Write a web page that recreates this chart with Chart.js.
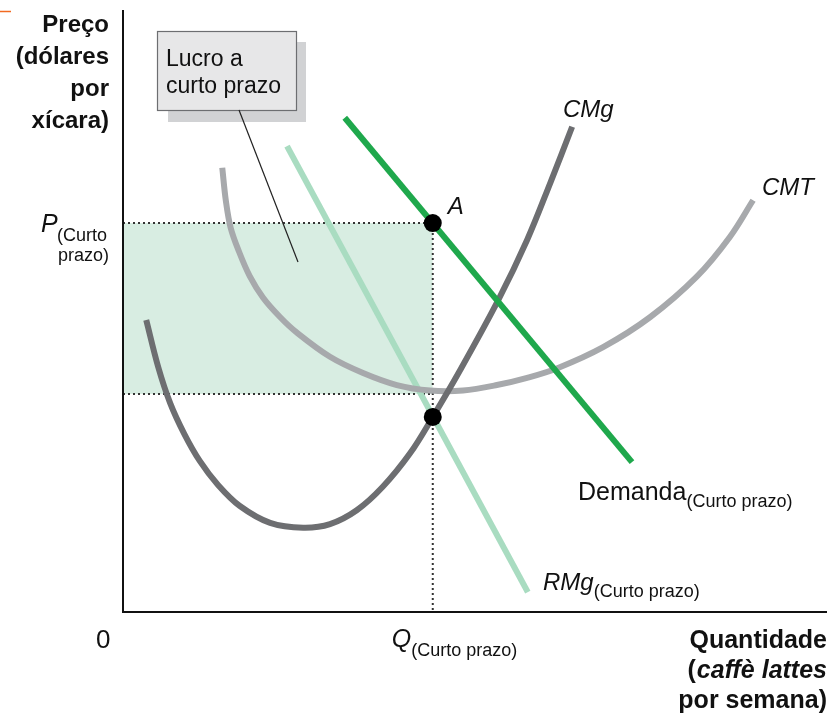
<!DOCTYPE html>
<html>
<head>
<meta charset="utf-8">
<script src="https://cdn.jsdelivr.net/npm/chart.js@4/dist/chart.umd.min.js"></script>
<style>
html,body{margin:0;padding:0;background:#fff;}
#wrap{width:827px;height:715px;position:relative;}
</style>
</head>
<body>
<div id="wrap"><canvas id="c" width="827" height="715"></canvas></div>
<script>
// ---- Data (abstract units: quantity 0..100, price 0..100) ----
const qShort = 44.0;        // Q (curto prazo)
const pShort = 64.6;        // P (curto prazo)
const atcMin = 36.2;        // minimum of CMT (bottom of profit box)
const mrAtQ = 32.4;         // RMg = CMg at Q

const demandX = [31.5, 72.3];
const demandY = [82.1, 24.9];

const mrX = [23.3, 57.5];
const mrY = [77.4, 3.3];

const mcX = [3.3, 5.0, 6.7, 8.7, 10.9, 13.5, 16.6, 20.9, 25.6, 29.4, 33.2, 36.9, 40.8, 44.0, 47.9, 53.3, 57.4, 60.7, 63.8];
const mcY = [48.5, 40.7, 34.7, 29.6, 25.1, 21.1, 17.6, 14.8, 14.0, 14.6, 16.9, 20.8, 26.4, 32.4, 40.2, 51.8, 61.8, 71.3, 80.6];

const atcX = [14.1, 14.6, 15.3, 16.5, 18.0, 19.9, 22.3, 24.7, 29.4, 34.1, 38.9, 43.6, 48.3, 53.1, 57.4, 61.7, 68.2, 74.9, 81.5, 86.2, 89.5];
const atcY = [73.8, 68.4, 63.8, 59.8, 55.8, 52.2, 49.0, 46.4, 42.4, 39.7, 37.7, 36.8, 36.8, 37.7, 38.9, 40.5, 44.0, 49.0, 55.7, 62.3, 68.4];

const curveLabels = ['CMg', 'CMT', 'Demanda', 'RMg'];
const subLabel = '(Curto prazo)';

const zip = (xs, ys) => xs.map((x, i) => ({x: x, y: ys[i]}));

const FONT = '"Liberation Sans", Arial, Helvetica, sans-serif';

function base(extra) {
  return Object.assign({
    pointRadius: 0, pointHoverRadius: 0, borderWidth: 6, fill: false,
    tension: 0, clip: false, borderCapStyle: 'butt', borderJoinStyle: 'round'
  }, extra);
}

const datasets = [
  // shaded profit rectangle
  base({data: [{x: 0, y: pShort}, {x: qShort, y: pShort}], borderWidth: 0, borderColor: 'rgba(0,0,0,0)',
        backgroundColor: '#d8ede2', fill: {value: atcMin}, order: 9}),
  // dotted guide lines
  base({data: [{x: 0, y: pShort}, {x: qShort, y: pShort}], borderWidth: 2, borderColor: '#333', borderDash: [2, 3], order: 8}),
  base({data: [{x: 0, y: atcMin}, {x: qShort, y: atcMin}], borderWidth: 2, borderColor: '#333', borderDash: [2, 3], order: 8}),
  base({data: [{x: qShort, y: pShort}, {x: qShort, y: 0}], borderWidth: 2, borderColor: '#333', borderDash: [2, 3], order: 8}),
  // axes
  base({data: [{x: 0, y: 100}, {x: 0, y: 0}, {x: 100, y: 0}], borderWidth: 2, borderColor: '#111', borderJoinStyle: 'miter', order: 7}),
  // MR (light green)
  base({data: zip(mrX, mrY), borderColor: '#a9dcc1', order: 6}),
  // ATC (light gray)
  base({data: zip(atcX, atcY), borderColor: '#a7a9ac', tension: 0.35, order: 5}),
  // MC (dark gray)
  base({data: zip(mcX, mcY), borderColor: '#6d6e71', tension: 0.35, order: 4}),
  // Demand (green)
  base({data: zip(demandX, demandY), borderColor: '#1fa84c', order: 3}),
  // points
  {data: [{x: qShort, y: pShort}, {x: qShort, y: mrAtQ}], showLine: false, pointRadius: 9, pointHoverRadius: 9,
   backgroundColor: '#000', borderColor: '#000', borderWidth: 0, clip: false, order: 0}
];

function txt(ctx, s, x, y, font, align) {
  ctx.font = font;
  ctx.textAlign = align || 'left';
  ctx.textBaseline = 'alphabetic';
  ctx.fillStyle = '#111';
  ctx.fillText(s, x, y);
}
function withSub(ctx, main, mainFont, sub, subFont, x, y, subY) {
  ctx.font = mainFont;
  const w = ctx.measureText(main).width;
  txt(ctx, main, x, y, mainFont);
  txt(ctx, sub, x + w, subY, subFont);
}

const annot = {
  id: 'annot',
  afterDraw(chart) {
    const ctx = chart.ctx;
    const xs = chart.scales.x, ys = chart.scales.y;
    ctx.save();
    // small orange mark top-left
    ctx.strokeStyle = '#f26a21'; ctx.lineWidth = 1.5;
    ctx.beginPath(); ctx.moveTo(0, 11.5); ctx.lineTo(11, 11.5); ctx.stroke();

    // y-axis title
    const bold = 'bold 24px ' + FONT;
    ['Preço', '(dólares', 'por', 'xícara)'].forEach((s, i) => txt(ctx, s, 109, 32 + i * 32, bold, 'right'));

    // P label
    const py = ys.getPixelForValue(pShort);
    txt(ctx, 'P', 41, py + 9, 'italic 25px ' + FONT);
    txt(ctx, '(Curto', 57, py + 18, '18px ' + FONT);
    txt(ctx, 'prazo)', 109, py + 38, '18px ' + FONT, 'right');

    // profit box with shadow
    ctx.fillStyle = '#d1d2d4';
    ctx.fillRect(168, 42, 138, 80);
    ctx.fillStyle = '#e7e7e8';
    ctx.fillRect(157, 31, 139, 79);
    ctx.strokeStyle = '#6d6e71'; ctx.lineWidth = 1.2;
    ctx.strokeRect(157.5, 31.5, 139, 79);
    txt(ctx, 'Lucro a', 166, 66, '23px ' + FONT);
    txt(ctx, 'curto prazo', 166, 93, '23px ' + FONT);
    // leader line
    ctx.strokeStyle = '#222'; ctx.lineWidth = 1.2;
    ctx.beginPath(); ctx.moveTo(239, 110); ctx.lineTo(298, 262); ctx.stroke();

    // curve labels
    txt(ctx, curveLabels[0], 563, 117, 'italic 24px ' + FONT);
    txt(ctx, curveLabels[1], 762, 195, 'italic 24px ' + FONT);
    txt(ctx, 'A', xs.getPixelForValue(qShort) + 15, py - 9, 'italic 24px ' + FONT);
    withSub(ctx, curveLabels[2], '25px ' + FONT, subLabel, '18px ' + FONT, 578, 500, 507);
    withSub(ctx, curveLabels[3], 'italic 24px ' + FONT, subLabel, '18px ' + FONT, 543, 590, 597);

    // x-axis labels
    txt(ctx, '0', 96, 648, '26px ' + FONT);
    withSub(ctx, 'Q', 'italic 25px ' + FONT, subLabel, '18px ' + FONT, xs.getPixelForValue(qShort) - 41, 647, 656);

    const bold25 = 'bold 25px ' + FONT;
    txt(ctx, 'Quantidade', 827, 648, bold25, 'right');
    ctx.font = 'bold italic 25px ' + FONT;
    const wIt = ctx.measureText('caffè lattes').width;
    txt(ctx, 'caffè lattes', 827 - wIt, 678, 'bold italic 25px ' + FONT);
    txt(ctx, '(', 827 - wIt - 1, 678, bold25, 'right');
    txt(ctx, 'por semana)', 827, 708, bold25, 'right');
    ctx.restore();
  }
};

new Chart(document.getElementById('c'), {
  type: 'line',
  data: {datasets: datasets},
  options: {
    responsive: false,
    animation: false,
    events: [],
    layout: {autoPadding: false, padding: {left: 123, right: 0, top: 10, bottom: 103}},
    plugins: {legend: {display: false}, tooltip: {enabled: false}},
    scales: {
      x: {type: 'linear', min: 0, max: 100, display: false},
      y: {type: 'linear', min: 0, max: 100, display: false}
    }
  },
  plugins: [annot]
});
</script>
</body>
</html>
